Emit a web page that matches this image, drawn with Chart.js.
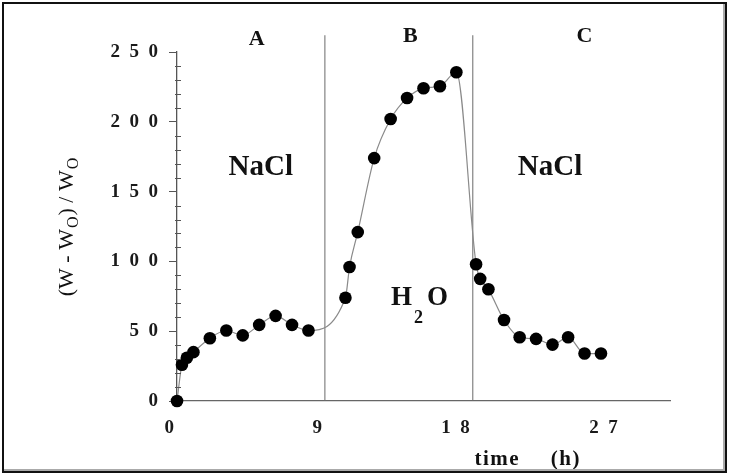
<!DOCTYPE html>
<html>
<head>
<meta charset="utf-8">
<script src="https://cdn.jsdelivr.net/npm/chart.js@4.4.0/dist/chart.umd.min.js"></script>
<style>
  html, body { margin: 0; padding: 0; background: #fff; }
  #wrap { position: relative; width: 729px; height: 476px; overflow: hidden; }
  #frame { position: absolute; left: 2px; top: 2px; width: 721px; height: 467px;
           border: 2px solid #111; box-shadow: inset -2px -2px 0 #aaa; pointer-events: none; }
  canvas { position: absolute; left: 0; top: 0; }
</style>
</head>
<body>
<div id="wrap">
  <canvas id="c" width="729" height="476"></canvas>
  <div id="frame"></div>
</div>
<script>
// ---- data ----
const times  = [0, 0.3, 0.6, 1, 2, 3, 4, 5, 6, 7, 8,
                10.25, 10.5, 11, 12, 13, 14, 15, 16, 17,
                18.2, 18.45, 18.95, 19.9, 20.85, 21.85, 22.85, 23.8, 24.8, 25.8];
const values = [0, 26, 31, 35, 45, 50.5, 47, 54.5, 61, 54.5, 50.5,
                74, 96, 121, 174, 202, 217, 224, 225.5, 235.5,
                98, 87.5, 80, 58, 45.7, 44.5, 40.4, 45.7, 34, 34];
const xTicks = [0, 9, 18, 27];
const yTicks = [0, 50, 100, 150, 200, 250];
const yMinorStep = 10;
const phaseBoundaries = [9, 18];
const boundaryTop = 262;
const phaseLetters = ['A', 'B', 'C'];
const phaseLetterX = [4.85, 14.2, 24.8];
const phaseLetterY = [255, 257, 257];
const mediumLabels = ['NaCl', 'NaCl'];
const mediumX = [5.1, 22.7];
const mediumY = [162, 162];
const waterX = 14.75, waterY = 69;
const xTitle = ['time', '(h)'];
const xTitleX = [18.1, 22.75];
const xTitleY = -46;

const SERIF = '"Liberation Serif", "Times New Roman", serif';
const spaced = v => String(v).split('').join('\u2002');

const points = times.map((t, i) => ({ x: t, y: values[i] }));

const boundarySets = phaseBoundaries.map(b => ({
  data: [{ x: b, y: 0 }, { x: b, y: boundaryTop }],
  showLine: true, borderColor: '#6a6a6a', borderWidth: 1,
  pointRadius: 0, clip: false, order: 2
}));

const decor = {
  id: 'decor',
  afterDatasetsDraw(chart) {
    const ctx = chart.ctx, xs = chart.scales.x, ys = chart.scales.y;
    const ax = xs.getPixelForValue(0);
    ctx.save();
    // minor ticks on y axis
    ctx.strokeStyle = '#555'; ctx.lineWidth = 1;
    for (let v = 0; v <= 250; v += yMinorStep) {
      if (v % 50 === 0) continue;
      const py = Math.round(ys.getPixelForValue(v)) + 0.5;
      ctx.beginPath(); ctx.moveTo(ax - 2, py); ctx.lineTo(ax + 4, py); ctx.stroke();
    }
    ctx.fillStyle = '#111';
    ctx.textAlign = 'center'; ctx.textBaseline = 'alphabetic';
    // phase letters
    ctx.font = 'bold 22px ' + SERIF;
    phaseLetters.forEach((t, i) => ctx.fillText(t, xs.getPixelForValue(phaseLetterX[i]), ys.getPixelForValue(phaseLetterY[i])));
    // medium labels
    ctx.font = 'bold 29px ' + SERIF;
    mediumLabels.forEach((t, i) => ctx.fillText(t, xs.getPixelForValue(mediumX[i]), ys.getPixelForValue(mediumY[i])));
    // H2O with subscript
    ctx.textAlign = 'left';
    const bigF = 'bold 27px ' + SERIF, subF = 'bold 18px ' + SERIF;
    ctx.font = bigF; const wH = ctx.measureText('H').width, wO = ctx.measureText('O').width;
    ctx.font = subF; const w2 = ctx.measureText('2').width;
    const total = wH + 2 + w2 + 4 + wO;
    let px = xs.getPixelForValue(waterX) - total / 2;
    const by = ys.getPixelForValue(waterY);
    ctx.font = bigF; ctx.fillText('H', px, by); px += wH + 2;
    ctx.font = subF; ctx.fillText('2', px, by + 18); px += w2 + 4;
    ctx.font = bigF; ctx.fillText('O', px, by);
    // x title
    ctx.font = 'bold 21px ' + SERIF;
    if ('letterSpacing' in ctx) ctx.letterSpacing = '1.5px';
    xTitle.forEach((t, i) => ctx.fillText(t, xs.getPixelForValue(xTitleX[i]), ys.getPixelForValue(xTitleY)));
    if ('letterSpacing' in ctx) ctx.letterSpacing = '0px';
    // y title (rotated, with subscripts)
    const segs = [['(W - W', false], ['O', true], [') / W', false], ['O', true]];
    const mainF = '22px ' + SERIF, smallF = '16px ' + SERIF;
    let tw = 0;
    segs.forEach(s => { ctx.font = s[1] ? smallF : mainF; tw += ctx.measureText(s[0]).width + 1; });
    ctx.translate(chart.chartArea.left - 104, (ys.getPixelForValue(0) + ys.getPixelForValue(250)) / 2);
    ctx.rotate(-Math.PI / 2);
    let sx = -tw / 2;
    segs.forEach(s => {
      ctx.font = s[1] ? smallF : mainF;
      ctx.fillText(s[0], sx, s[1] ? 5 : 0);
      sx += ctx.measureText(s[0]).width + 1;
    });
    ctx.restore();
  }
};

new Chart(document.getElementById('c'), {
  type: 'scatter',
  data: {
    datasets: [
      {
        data: points, showLine: true,
        borderColor: '#8a8a8a', borderWidth: 1.2,
        cubicInterpolationMode: 'monotone',
        pointRadius: 6.3, pointBackgroundColor: '#000', pointBorderColor: '#000',
        pointBorderWidth: 0, clip: false, order: 1
      },
      ...boundarySets
    ]
  },
  options: {
    responsive: false, animation: false,
    events: [],
    layout: { padding: { left: 0, top: 52, right: 59, bottom: 0 } },
    plugins: { legend: { display: false }, tooltip: { enabled: false } },
    scales: {
      x: {
        type: 'linear', min: 0, max: 30,
        afterBuildTicks: s => { s.ticks = xTicks.map(v => ({ value: v })); },
        afterFit: s => { s.height = 75; },
        grid: { display: true, drawOnChartArea: false, drawTicks: false },
        border: { display: true, color: '#666', width: 1.3 },
        ticks: {
          padding: 16, align: 'end', labelOffset: -3, color: '#1a1a1a', maxRotation: 0, autoSkip: false,
          font: { family: SERIF, size: 19, weight: 'bold' },
          callback: v => spaced(v)
        }
      },
      y: {
        type: 'linear', min: 0, max: 250,
        afterBuildTicks: s => { s.ticks = yTicks.map(v => ({ value: v })); },
        afterFit: s => { s.width = 177; },
        grid: { display: true, drawOnChartArea: false, drawTicks: true, tickLength: 8, color: '#555' },
        border: { display: true, color: '#555', width: 1.3 },
        ticks: {
          padding: 11, color: '#1a1a1a', autoSkip: false,
          font: { family: SERIF, size: 19, weight: 'bold' },
          callback: v => spaced(v)
        }
      }
    }
  },
  plugins: [decor]
});
</script>
</body>
</html>
